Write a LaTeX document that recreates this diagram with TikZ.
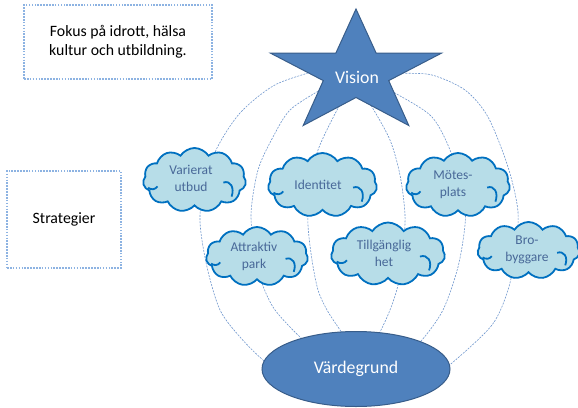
\documentclass[tikz,border=0pt]{standalone}
\usepackage{fontspec}
\setmainfont{Carlito}
\usetikzlibrary{shapes.symbols,shapes.geometric,calc}
\definecolor{starfill}{RGB}{79,129,189}
\definecolor{starline}{RGB}{56,93,138}
\definecolor{cloudfill}{RGB}{183,221,232}
\definecolor{cloudedge}{RGB}{0,112,192}
\definecolor{cloudtext}{RGB}{72,104,152}
\definecolor{merid}{RGB}{110,150,205}
\definecolor{boxline}{RGB}{141,179,226}
\begin{document}
\begin{tikzpicture}[x=1pt,y=-1pt,
  cloudbox/.style={cloud, cloud puffs=11, cloud puff arc=115, cloud ignores aspect,
    fill=cloudfill, draw=cloudedge, line width=1.8pt, inner sep=0pt},
  cloudtxt/.style={text=cloudtext, font=\fontsize{13.5}{17}\selectfont, align=center},
  cloudinner/.style={draw=cloudedge, line width=1.8pt},
  meridian/.style={draw=merid, line width=0.6pt, dash pattern=on 2pt off 1.2pt},
  infobox/.style={rectangle, draw=boxline, line width=1.6pt, dash pattern=on 1.6pt off 1.3pt,
    align=center, font=\fontsize{15.8}{19}\selectfont},
  bigshape/.style={fill=starfill, draw=starline, line width=1pt},
  bigtxt/.style={text=white, font=\fontsize{17.8}{21}\selectfont}
]
\useasboundingbox (0,0) rectangle (578,407);

% meridians
\draw[meridian] plot[smooth] coordinates {(330,67) (308,73) (273,86) (240,113) (217,148) (204,185) (200,222) (207,267) (220,310) (240,337) (263,360) (285,375)};
\draw[meridian] plot[smooth] coordinates {(335,82) (320,90) (290,110) (273,137) (258,170) (251,215) (256,260) (263,286) (275,310) (300,337) (320,352)};
\draw[meridian] plot[smooth] coordinates {(345,98) (337,110) (318,150) (309,190) (308,225) (312,260) (318,290) (327,310) (340,330) (350,345)};
\draw[meridian] plot[smooth] coordinates {(365,98) (372,107) (390,140) (400,175) (405,215) (403,250) (398,285) (390,310) (380,332) (372,345)};
\draw[meridian] plot[smooth] coordinates {(380,85) (395,93) (432,117) (452,155) (464,200) (465,225) (458,267) (443,310) (422,340) (405,355)};
\draw[meridian] plot[smooth] coordinates {(380,70) (402,73) (432,75) (465,90) (488,117) (508,167) (518,212) (515,255) (508,290) (492,325) (452,363) (430,378)};

% info boxes
\node[infobox, minimum width=188pt, minimum height=74pt] (fokus) at (118,42) {Fokus på idrott, hälsa\\kultur och utbildning.};
\node[infobox, minimum width=114pt, minimum height=97pt] (strat) at (64,219.5) {Strategier};

% clouds
\node[cloudbox, minimum width=103pt, minimum height=64pt] (c1) at (194.5,180) {};
\node[cloudbox, minimum width=109pt, minimum height=64pt] (c2) at (322.5,185) {};
\node[cloudbox, minimum width=104pt, minimum height=64pt] (c3) at (458,185) {};
\node[cloudbox, minimum width=102pt, minimum height=59pt] (c4) at (257,256.5) {};
\node[cloudbox, minimum width=114pt, minimum height=63pt] (c5) at (388,254) {};
\node[cloudbox, minimum width=102pt, minimum height=57pt] (c6) at (528.5,250.5) {};

\foreach \c/\w/\h in {c1/103/64, c2/109/64, c3/104/64, c4/102/59, c5/114/63, c6/102/57}{
  \draw[cloudinner] ($(\c.center)+(0.28*\w,0.04*\h)$) .. controls ($(\c.center)+(0.35*\w,0.0*\h)$) and ($(\c.center)+(0.39*\w,0.12*\h)$) .. ($(\c.center)+(0.36*\w,0.26*\h)$);
  \draw[cloudinner] ($(\c.center)+(-0.45*\w,0.12*\h)$) .. controls ($(\c.center)+(-0.42*\w,0.16*\h)$) and ($(\c.center)+(-0.38*\w,0.15*\h)$) .. ($(\c.center)+(-0.36*\w,0.1*\h)$);
}

\node[cloudtxt] (t1) at (191,178.5) {Varierat\\utbud};
\node[cloudtxt] (t2) at (318,185) {Identitet};
\node[cloudtxt] (t3) at (453,184.5) {Mötes-\\plats};
\node[cloudtxt] (t4) at (254,256.5) {Attraktiv\\park};
\node[cloudtxt] (t5) at (384,253.5) {Tillgänglig\\het};
\node[cloudtxt] (t6) at (527,250) {Bro-\\byggare};

% star
\draw[bigshape, line join=miter] (356,9) -- (376.2,53.2) -- (441.4,53.2) -- (388.7,80.6) -- (408.8,125.5)
  -- (356,97.5) -- (303.2,125.5) -- (323.3,80.6) -- (270.6,53.2) -- (335.8,53.2) -- cycle;
\node[bigtxt] (vision) at (357,77) {Vision};

% ellipse
\node[ellipse, bigshape, bigtxt, minimum width=188pt, minimum height=75pt] (vg) at (356,369) {Värdegrund};
\end{tikzpicture}
\end{document}
